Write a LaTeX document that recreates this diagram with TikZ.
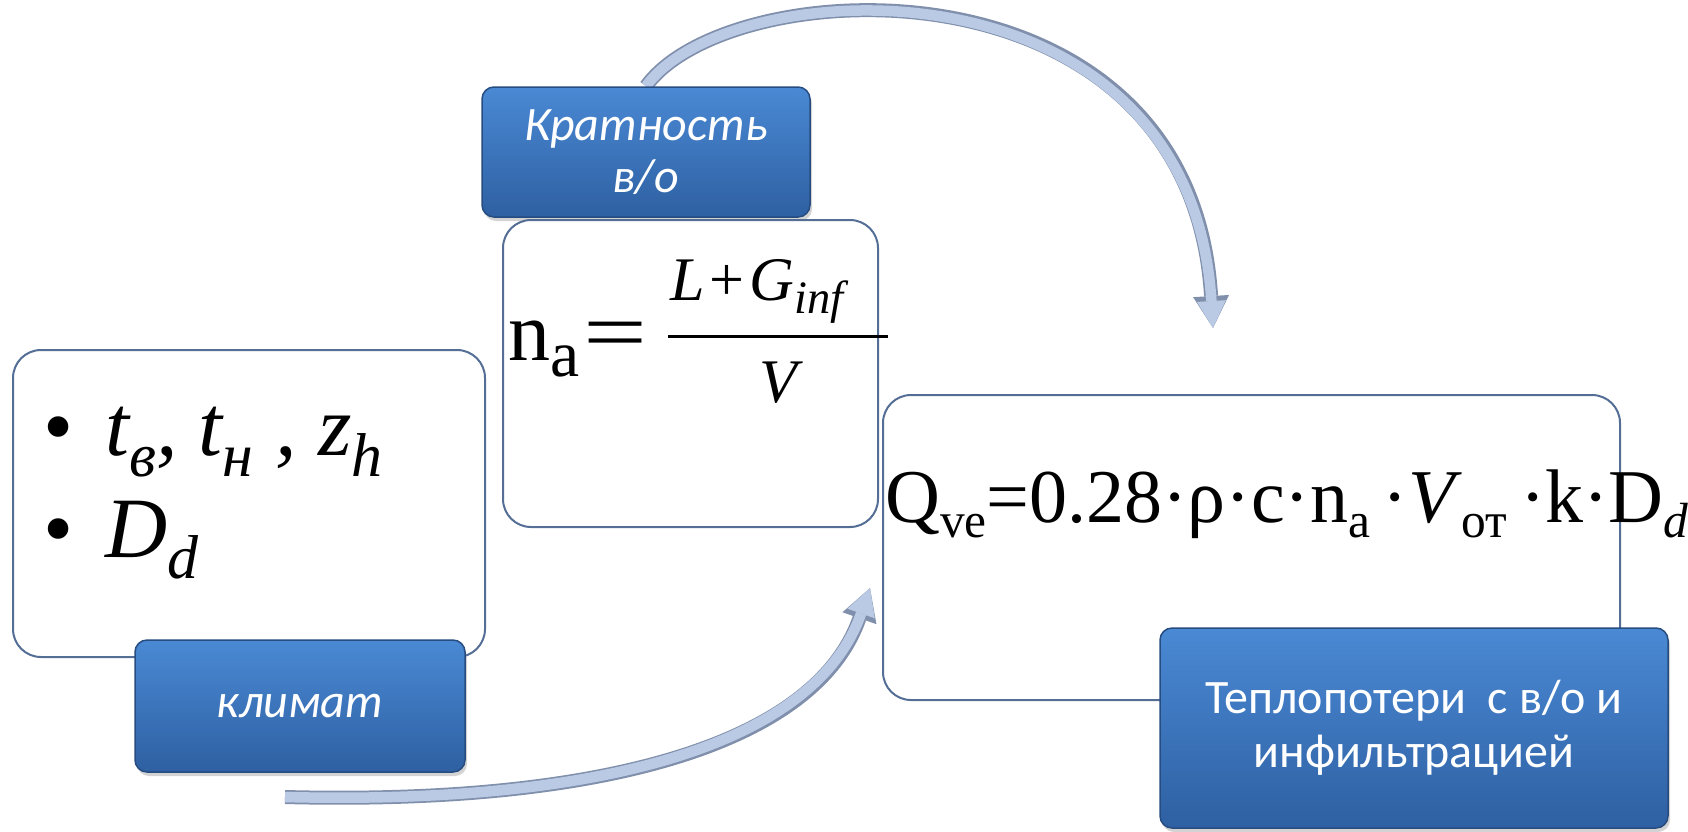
\documentclass[tikz,border=0pt]{standalone}
\usepackage{fontspec}
\usepackage{graphicx}
\setmainfont{Liberation Serif}
\newfontfamily\tagfont{Carlito}
\usetikzlibrary{arrows.meta,shadows,backgrounds}

\definecolor{tagtop}{RGB}{74,137,212}
\definecolor{tagbot}{RGB}{46,96,162}
\definecolor{tagrim}{RGB}{38,76,128}
\definecolor{cardrim}{RGB}{84,110,150}
\definecolor{flowfill}{RGB}{186,201,228}
\definecolor{flowrim}{RGB}{128,144,172}

\newcommand{\lo}[3][0.25em]{\raisebox{-#1}{\scalebox{#2}{#3}}}
\newcommand{\fs}[2]{\fontsize{#1}{#2}\selectfont}

\begin{document}
\begin{tikzpicture}[
        x=1pt, y=-1pt,
        card/.style={
            draw=cardrim,
            line width=2pt,
            fill=white,
            rounded corners=28pt,
            inner sep=0pt
        },
        tag/.style={
            draw=tagrim,
            line width=1.5pt,
            top color=tagtop,
            bottom color=tagbot,
            rounded corners=12pt,
            text=white,
            align=center,
            drop shadow={opacity=0.35, shadow xshift=2pt, shadow yshift=-4pt}
        },
        formula/.style={anchor=base west, inner sep=0pt},
        flow/.style={line width=14pt, draw=flowrim,
            -{Triangle[width=36pt,length=32pt,line width=0pt]}},
        flowin/.style={line width=10.5pt, draw=flowfill,
            -{Triangle[width=29pt,length=27pt,line width=0pt]}}
    ]
    \useasboundingbox (0,0) rectangle (1688,831);

    % climate
    \node[card, minimum width=472pt, minimum height=307pt] (clim) at (249,503.5) {};
    \node[formula, font=\fs{86}{90}\itshape] (tline) at (43,455)
        {{\upshape •}\hspace{32pt}t\lo{0.72}{в}, t\lo{0.72}{н} , z\lo{0.72}{h}};
    \node[formula, font=\fs{86}{90}\itshape] (dline) at (43,557)
        {{\upshape •}\hspace{32pt}D\lo{0.72}{d}};
    \node[tag, minimum width=330pt, minimum height=132pt,
        font=\tagfont\fs{48}{52}\itshape] (klimat) at (300,706) {климат};

    % air change rate
    \node[tag, minimum width=328pt, minimum height=130pt,
        font=\tagfont\fs{48}{52}\itshape] (krat) at (646,152) {Кратность\\в/о};
    \node[card, minimum width=375pt, minimum height=307pt] (ratio) at (690.5,373.5) {};
    \node[formula, font=\fs{84}{90}] (na) at (508,360)
        {n\lo[0.2em]{0.78}{a}\hspace{4pt}\scalebox{1.35}[1]{=}};
    \node[anchor=north, inner sep=0pt, font=\fs{62}{62}\itshape] (frac) at (778,241.5)
        {\renewcommand\arraystretch{1.5}\setlength\arrayrulewidth{3pt}%
         \begin{tabular}{@{}c@{}}\makebox[220pt][l]{\raisebox{6pt}{\hspace{2pt}L\hspace{5pt}{\upshape+}\hspace{5pt}G\lo[0.2em]{0.75}{inf}}}\\\hline V\end{tabular}};

    % heat loss
    \node[card, minimum width=737pt, minimum height=305pt] (loss) at (1251.5,547.5) {};
    \node[formula, font=\fs{76}{80}] (qline) at (885,522)
        {Q\lo[0.2em]{0.65}{ve}=0.28·ρ·c·n\lo[0.2em]{0.65}{a}\,·\textit{V}\lo[0.2em]{0.65}{от}\,·k·D\lo[0.2em]{0.65}{\textit{d}}};
    \node[tag, minimum width=508pt, minimum height=200pt,
        font=\tagfont\fs{48}{54}] (heat) at (1414,728) {Теплопотери~ с в/о и\\инфильтрацией};

    % arrows
    \coordinate (dropend) at (1213,328);
    \coordinate (risestart) at (285,797);
    \coordinate (riseend) at (870,588);
    \begin{scope}[on background layer]
        \draw[flow] (krat.north) .. controls (730,-30) and (1190,-50) .. (dropend);
        \draw[flowin] (krat.north) .. controls (730,-30) and (1190,-50) .. (dropend);
        \draw[flow] (risestart) .. controls (600,805) and (815,745) .. (riseend);
        \draw[flowin] (risestart) .. controls (600,805) and (815,745) .. (riseend);
    \end{scope}
\end{tikzpicture}
\end{document}
